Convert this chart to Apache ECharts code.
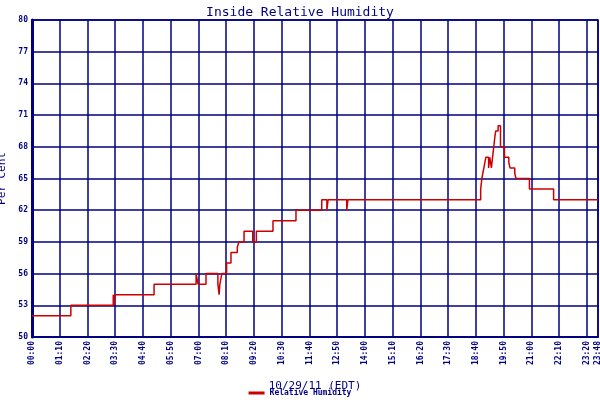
<!DOCTYPE html>
<html><head><meta charset="utf-8">
<script src="https://cdn.jsdelivr.net/npm/echarts@6/dist/echarts.min.js"></script>
<style>html,body{margin:0;padding:0;background:#fff}#c{width:600px;height:400px}</style>
</head><body><div id="c"></div>
<script>
// time in minutes since 00:00, humidity (%)
var times = [0,98,205,207,209,211,308,414,419,439,469,472,474,479,491,502,518,522,535,557,566,608,666,731,744,747,794,797,1132,1135,1140,1145,1152,1155,1159,1162,1165,1168,1170,1176,1182,1192,1203,1206,1218,1221,1255,1316,1428];
var values = [52,53,54,53,54,54,55,56,55,56,55,54,55,56,57,58,58.5,59,60,59,60,61,62,63,62,63,62,63,64,65,66,67,66,67,66,67,68,69,69.5,70,68,67,66.5,66,65.5,65,64,63,63];
var tickValues = [0,70,140,210,280,350,420,490,560,630,700,770,840,910,980,1050,1120,1190,1260,1330,1400,1428];
var yMin = 50, yMax = 80, yStep = 3;
function fmt(m){var h=Math.floor(m/60),mm=m%60;return (h<10?'0':'')+h+':'+(mm<10?'0':'')+mm;}
var navy='#000080', font='DejaVu Sans Mono';
var data = times.map(function(t,i){return [t,values[i]];});
var chart = echarts.init(document.getElementById('c'));
chart.setOption({
  backgroundColor:'#fff', animation:false,
  title:{text:'Inside Relative Humidity',left:'center',top:1,textStyle:{color:navy,fontFamily:font,fontSize:13,fontWeight:'normal'}},
  grid:{left:32,right:2,top:20,bottom:63,outerBoundsMode:'none',containLabel:false,show:true,borderColor:navy,borderWidth:1.5},
  legend:{bottom:-2,left:'center',itemWidth:16,itemHeight:3,icon:'rect',textStyle:{color:navy,fontFamily:font,fontSize:8,fontWeight:'bold'},data:['Relative Humidity']},
  xAxis:{type:'value',min:0,max:1428,interval:70,name:'10/29/11 (EDT)',nameLocation:'middle',nameGap:44,
    nameTextStyle:{color:navy,fontFamily:font,fontSize:11},
    axisLine:{lineStyle:{color:navy,width:2}},
    axisTick:{show:false},
    axisLabel:{customValues:tickValues,rotate:90,formatter:function(v){return fmt(v);},color:navy,fontFamily:font,fontSize:8,fontWeight:'bold',margin:4},
    splitLine:{show:true,lineStyle:{color:navy,width:1.5}}},
  yAxis:{type:'value',min:yMin,max:yMax,interval:yStep,name:'Per Cent',nameLocation:'middle',nameGap:22,
    nameTextStyle:{color:navy,fontFamily:font,fontSize:11},
    axisLine:{show:true,lineStyle:{color:navy,width:3}},axisTick:{show:false},
    axisLabel:{color:navy,fontFamily:font,fontSize:8,fontWeight:'bold',margin:4},
    splitLine:{show:true,lineStyle:{color:navy,width:1.5}}},
  series:[{name:'Relative Humidity',type:'line',step:'end',showSymbol:false,data:data,
    lineStyle:{color:'#cc0000',width:1.5},itemStyle:{color:'#cc0000'}}]
});
</script></body></html>
